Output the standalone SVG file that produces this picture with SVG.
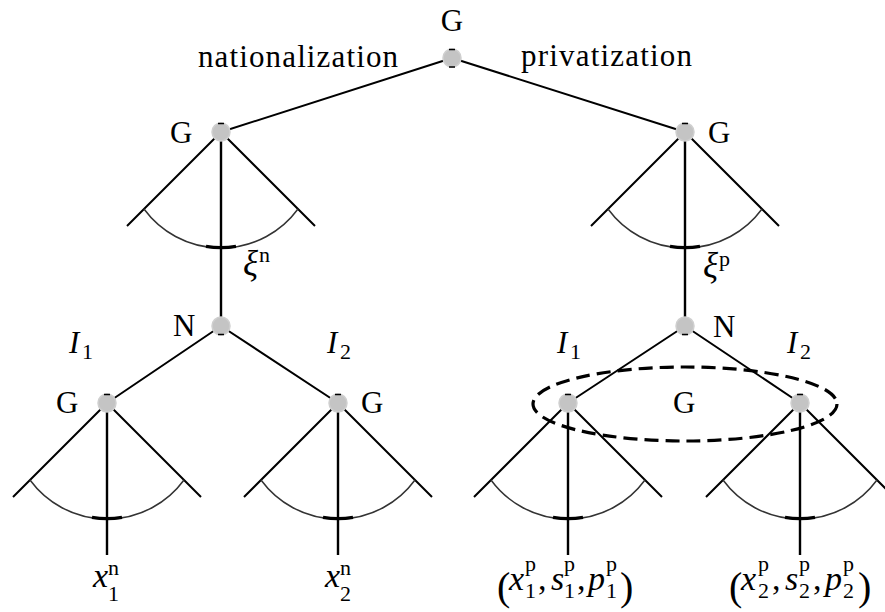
<svg xmlns="http://www.w3.org/2000/svg" width="885" height="612" viewBox="0 0 885 612">
<style>
text{font-family:"Liberation Serif","DejaVu Serif",serif;fill:#000;font-size:31px}
.it{font-style:italic}
.xi{font-size:35px}
.sc{font-size:22px;font-style:normal}
.big{font-size:34px}
.par{font-size:40px;font-style:normal}
.edge{stroke:#000;stroke-width:2;fill:none}
.vert{stroke:#000;stroke-width:2.4;fill:none}
.arc{stroke:#333;stroke-width:1.5;fill:none}
.thick{stroke:#000;stroke-width:3.2;fill:none}
.node{fill:#c4c4c4;stroke:#cfcfcf;stroke-width:1.5}
.tick{stroke:#000;stroke-width:1.5}
.info{fill:none;stroke:#000;stroke-width:3.2;stroke-dasharray:14 7}
</style>
<defs>
<g id="fan">
<path class="edge" d="M0,0 L-94,94 M0,0 L94,94"/>
<path class="arc" d="M-77,77 A95.5,95.5 0 0 0 77,77"/>
<path class="thick" d="M-15,114.4 A95.5,95.5 0 0 0 15,114.4"/>
</g>
</defs>
<g id="connectors">
<path class="edge" d="M452,58 L221,132 M452,58 L685,132"/>
<path class="vert" d="M221,132 V326 M685,132 V326"/>
<path class="edge" d="M221,326 L107,403 M221,326 L338,403 M685,326 L568,403 M685,326 L800,403"/>
<path class="vert" d="M107,403 V555 M338,403 V555 M568,403 V555 M800,403 V555"/>
<use href="#fan" x="221" y="132"/>
<use href="#fan" x="685" y="132"/>
<use href="#fan" x="107" y="403"/>
<use href="#fan" x="338" y="403"/>
<use href="#fan" x="568" y="403"/>
<use href="#fan" x="800" y="403"/>
</g>
<g id="info-set">
<ellipse class="info" cx="685" cy="404" rx="152" ry="37"/>
</g>
<g id="n-root">
<circle class="node" cx="452" cy="58" r="9"/>
<path class="tick" d="M449,49.5 h6 M449,67 h6"/>
<text x="452" y="31" text-anchor="middle">G</text>
<text x="198" y="67" textLength="200" lengthAdjust="spacing">nationalization</text>
<text x="521" y="66" textLength="171" lengthAdjust="spacing">privatization</text>
</g>
<g id="n-gl">
<circle class="node" cx="221" cy="132" r="9"/>
<path class="tick" d="M218,123.5 h6"/>
<text x="170" y="143">G</text>
<text x="243" y="275" class="it xi">ξ<tspan class="sc" x="259" y="262">n</tspan></text>
</g>
<g id="n-gr">
<circle class="node" cx="685" cy="132" r="9"/>
<path class="tick" d="M682,123.5 h6"/>
<text x="708" y="143">G</text>
<text x="703" y="277" class="it xi">ξ<tspan class="sc" x="719" y="266">p</tspan></text>
</g>
<g id="n-nl">
<circle class="node" cx="221" cy="326" r="9"/>
<path class="tick" d="M218,334.5 h6"/>
<text x="173" y="336">N</text>
<text x="69" y="353" class="it">I<tspan class="sc" x="82" y="359">1</tspan></text>
<text x="327" y="353" class="it">I<tspan class="sc" x="340" y="359">2</tspan></text>
</g>
<g id="n-nr">
<circle class="node" cx="685" cy="326" r="9"/>
<path class="tick" d="M682,334.5 h6"/>
<text x="713" y="337">N</text>
<text x="557" y="353" class="it">I<tspan class="sc" x="570" y="359">1</tspan></text>
<text x="787" y="353" class="it">I<tspan class="sc" x="800" y="359">2</tspan></text>
</g>
<g id="n-g1">
<circle class="node" cx="107" cy="403" r="9"/>
<path class="tick" d="M104,394.5 h6"/>
<text x="56" y="413">G</text>
<text x="93" y="587" class="it big">x<tspan class="sc" x="108" y="575">n</tspan><tspan class="sc" x="108" y="601">1</tspan></text>
</g>
<g id="n-g2">
<circle class="node" cx="338" cy="403" r="9"/>
<path class="tick" d="M335,394.5 h6"/>
<text x="361" y="413">G</text>
<text x="325" y="587" class="it big">x<tspan class="sc" x="340" y="575">n</tspan><tspan class="sc" x="340" y="601">2</tspan></text>
</g>
<g id="n-g3">
<circle class="node" cx="568" cy="403" r="9"/>
<path class="tick" d="M565,394.5 h6"/>
<text x="673" y="413">G</text>
<text y="590" class="big"><tspan class="par" x="497" y="600">(</tspan><tspan class="it" x="509" y="590">x</tspan><tspan class="sc" x="525" y="571">p</tspan><tspan class="sc" x="525" y="598">1</tspan><tspan x="538" y="590">,</tspan><tspan class="it" x="551" y="590">s</tspan><tspan class="sc" x="564" y="571">p</tspan><tspan class="sc" x="564" y="598">1</tspan><tspan x="577" y="590">,</tspan><tspan class="it" x="588" y="590">p</tspan><tspan class="sc" x="606" y="571">p</tspan><tspan class="sc" x="606" y="598">1</tspan><tspan class="par" x="620" y="600">)</tspan></text>
</g>
<g id="n-g4">
<circle class="node" cx="800" cy="403" r="9"/>
<path class="tick" d="M797,394.5 h6"/>
<text y="590" class="big"><tspan class="par" x="729" y="600">(</tspan><tspan class="it" x="741" y="590">x</tspan><tspan class="sc" x="758" y="571">p</tspan><tspan class="sc" x="758" y="598">2</tspan><tspan x="772" y="590">,</tspan><tspan class="it" x="785" y="590">s</tspan><tspan class="sc" x="799" y="571">p</tspan><tspan class="sc" x="799" y="598">2</tspan><tspan x="813" y="590">,</tspan><tspan class="it" x="825" y="590">p</tspan><tspan class="sc" x="843" y="571">p</tspan><tspan class="sc" x="843" y="598">2</tspan><tspan class="par" x="858" y="600">)</tspan></text>
</g>
</svg>
